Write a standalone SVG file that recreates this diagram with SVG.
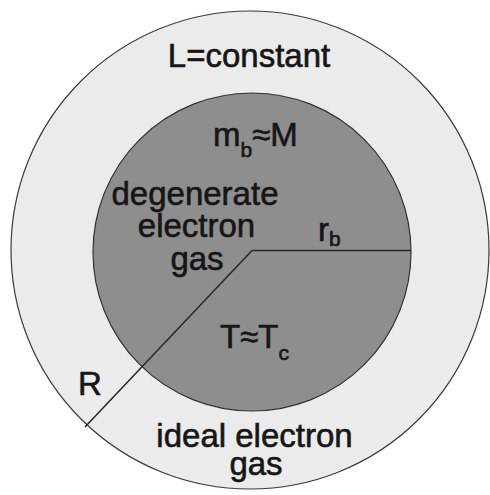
<svg xmlns="http://www.w3.org/2000/svg" width="490" height="495" viewBox="0 0 490 495">
  <style>
    .lbl { font-family: "Liberation Sans", Arial, sans-serif; font-size: 33px; fill: #161616; stroke: #161616; stroke-width: 0.6; }
    .mid { text-anchor: middle; }
    .sub { font-size: 21px; }
    .edge { fill: none; stroke: #2a2a2a; stroke-width: 1.6; }
  </style>
  <rect x="0" y="0" width="490" height="495" fill="#ffffff"/>
  <g id="star-envelope">
    <circle cx="250" cy="250" r="239" fill="#ebebeb" stroke="#3a3a3a" stroke-width="1.2"/>
    <text class="lbl mid" x="249" y="67">L=constant</text>
    <text class="lbl mid" x="254.5" y="447">ideal electron<tspan x="256" y="475">gas</tspan></text>
  </g>
  <g id="core">
    <circle cx="252" cy="252" r="159" fill="#8e8e8e" stroke="#333333" stroke-width="1.2"/>
    <text class="lbl" x="213" y="146">m<tspan class="sub" dy="11">b</tspan><tspan dy="-11">≈M</tspan></text>
    <text class="lbl mid" x="195" y="205">degenerate<tspan x="196.5" y="237">electron</tspan><tspan x="197" y="270">gas</tspan></text>
    <text class="lbl" x="220" y="348">T≈T<tspan class="sub" dy="12">c</tspan></text>
  </g>
  <g id="connectors">
    <line class="edge" x1="252" y1="250.5" x2="411" y2="250.5"/>
    <line class="edge" x1="252" y1="250.5" x2="85" y2="427"/>
  </g>
  <g id="radius-labels">
    <text class="lbl" x="318" y="241">r<tspan class="sub" dy="5">b</tspan></text>
    <text class="lbl" x="78" y="395">R</text>
  </g>
</svg>
